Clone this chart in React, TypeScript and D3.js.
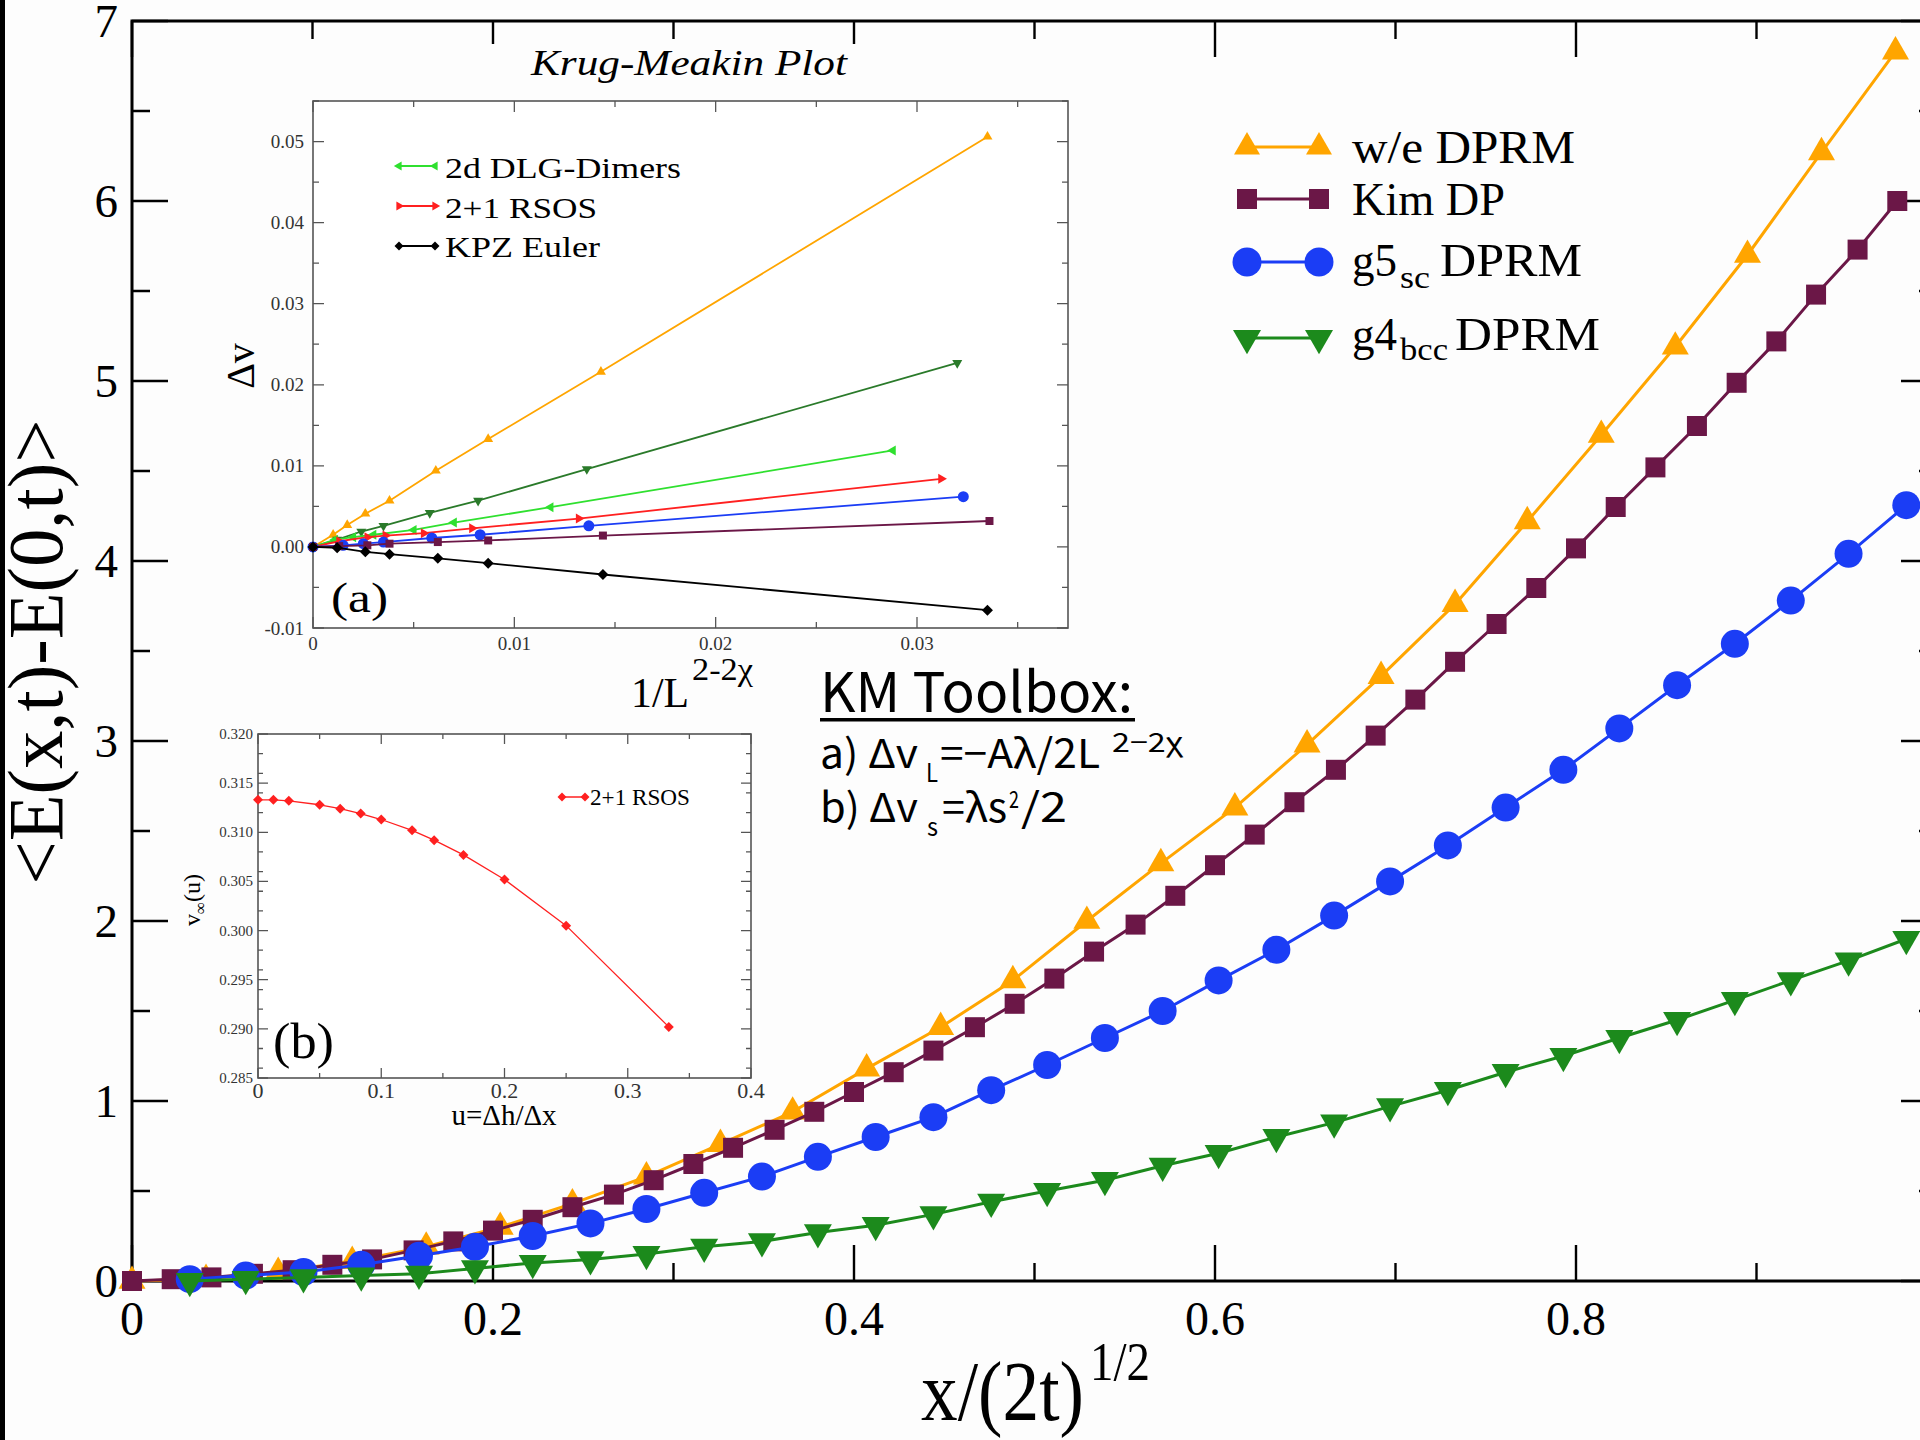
import React from "react";
import * as d3 from "d3";

// ---------------- Main chart data ----------------
const weX = [0, 0.041, 0.081, 0.122, 0.163, 0.204, 0.244, 0.285, 0.326, 0.366, 0.407, 0.448, 0.488, 0.529, 0.57, 0.611, 0.651, 0.692, 0.733, 0.773, 0.814, 0.855, 0.895, 0.936, 0.977];
const weY = [0, 0.01, 0.05, 0.11, 0.19, 0.3, 0.43, 0.58, 0.76, 0.94, 1.18, 1.41, 1.67, 2.0, 2.32, 2.63, 2.98, 3.36, 3.76, 4.22, 4.7, 5.19, 5.7, 6.27, 6.83];

const kimX = [0, 0.022, 0.044, 0.067, 0.089, 0.111, 0.133, 0.156, 0.178, 0.2, 0.222, 0.244, 0.267, 0.289, 0.311, 0.333, 0.356, 0.378, 0.4, 0.422, 0.444, 0.467, 0.489, 0.511, 0.533, 0.556, 0.578, 0.6, 0.622, 0.644, 0.667, 0.689, 0.711, 0.733, 0.756, 0.778, 0.8, 0.822, 0.844, 0.867, 0.889, 0.911, 0.933, 0.956, 0.978];
const kimY = [0, 0.01, 0.02, 0.04, 0.06, 0.09, 0.12, 0.17, 0.22, 0.28, 0.34, 0.41, 0.48, 0.56, 0.65, 0.74, 0.84, 0.94, 1.05, 1.16, 1.28, 1.41, 1.54, 1.68, 1.83, 1.98, 2.14, 2.31, 2.48, 2.66, 2.84, 3.03, 3.23, 3.44, 3.65, 3.85, 4.07, 4.3, 4.52, 4.75, 4.99, 5.22, 5.48, 5.73, 6.0];

const gX = [0.032, 0.063, 0.095, 0.127, 0.159, 0.19, 0.222, 0.254, 0.285, 0.317, 0.349, 0.38, 0.412, 0.444, 0.476, 0.507, 0.539, 0.571, 0.602, 0.634, 0.666, 0.697, 0.729, 0.761, 0.793, 0.824, 0.856, 0.888, 0.919, 0.951, 0.983];
const g5Y = [0.01, 0.03, 0.05, 0.09, 0.14, 0.19, 0.25, 0.32, 0.4, 0.49, 0.58, 0.69, 0.8, 0.91, 1.06, 1.2, 1.35, 1.5, 1.67, 1.84, 2.03, 2.22, 2.42, 2.63, 2.84, 3.07, 3.31, 3.54, 3.78, 4.04, 4.31];
const g4Y = [0.0, 0.01, 0.02, 0.03, 0.04, 0.07, 0.1, 0.12, 0.15, 0.19, 0.22, 0.27, 0.31, 0.37, 0.44, 0.5, 0.56, 0.64, 0.71, 0.8, 0.88, 0.97, 1.06, 1.16, 1.25, 1.35, 1.45, 1.56, 1.67, 1.78, 1.9];

const mainXTickLabels = ["0", "0.2", "0.4", "0.6", "0.8", "1"];
const mainYTickLabels = ["0", "1", "2", "3", "4", "5", "6", "7"];
const mainLegend = ["w/e DPRM", "Kim DP", "g5", "g4"];

// ---------------- Inset (a) data ----------------
const aWeX = [0, 0.001, 0.0017, 0.0026, 0.0038, 0.0061, 0.0087, 0.0143, 0.0335];
const aWeY = [0, 0.0015, 0.0027, 0.0041, 0.0057, 0.0094, 0.0133, 0.0216, 0.0506];
const aG4X = [0, 0.0012, 0.0024, 0.0035, 0.0058, 0.0082, 0.0136, 0.032];
const aG4Y = [0, 0.0009, 0.0019, 0.0026, 0.0042, 0.0057, 0.0096, 0.0227];
const aDlgX = [0, 0.0011, 0.002, 0.003, 0.005, 0.007, 0.0118, 0.0288];
const aDlgY = [0, 0.0009, 0.0012, 0.0015, 0.0021, 0.003, 0.0049, 0.0119];
const aRsosX = [0, 0.0013, 0.0027, 0.0036, 0.0055, 0.0079, 0.0132, 0.0312];
const aRsosY = [0, 0.0007, 0.0012, 0.0014, 0.0017, 0.0023, 0.0035, 0.0084];
const aG5X = [0, 0.0015, 0.0025, 0.0035, 0.0059, 0.0083, 0.0137, 0.0323];
const aG5Y = [0, 0.0002, 0.0004, 0.0006, 0.0011, 0.0015, 0.0026, 0.0062];
const aKimX = [0, 0.0013, 0.0027, 0.0038, 0.0062, 0.0087, 0.0144, 0.0336];
const aKimY = [0, 0.0001, 0.0002, 0.0004, 0.0006, 0.0008, 0.0014, 0.0032];
const aKpzX = [0, 0.0012, 0.0026, 0.0038, 0.0062, 0.0087, 0.0144, 0.0335];
const aKpzY = [0, -0.0001, -0.0006, -0.0009, -0.0014, -0.002, -0.0034, -0.0078];
const aXTickLabels = ["0", "0.01", "0.02", "0.03"];
const aYTickLabels = ["-0.01", "0.00", "0.01", "0.02", "0.03", "0.04", "0.05"];
const aLegend = ["2d DLG-Dimers", "2+1 RSOS", "KPZ Euler"];

// ---------------- Inset (b) data ----------------
const bU = [0, 0.0125, 0.025, 0.05, 0.0667, 0.0833, 0.1, 0.125, 0.1429, 0.1667, 0.2, 0.25, 0.3333];
const bV = [0.3133, 0.3133, 0.3132, 0.3128, 0.3124, 0.3119, 0.3113, 0.3102, 0.3092, 0.3077, 0.3052, 0.3005, 0.2902];
const bXTickLabels = ["0", "0.1", "0.2", "0.3", "0.4"];
const bYTickLabels = ["0.285", "0.290", "0.295", "0.300", "0.305", "0.310", "0.315", "0.320"];
const bLegend = ["2+1 RSOS"];

// ---------------- colours ----------------
const ORANGE = "#ffa500";
const MAROON = "#6b1747";
const BLUE = "#1b3df5";
const GREEN = "#1c8a1c";
const DKGREEN = "#2a7a2a";
const LTGREEN = "#2fe02f";
const RED = "#ff2020";
const SERIF = "'Liberation Serif', 'Times New Roman', serif";
const GOTHIC = "'Noto Sans CJK JP', 'Noto Sans', sans-serif";

const zip = (xs: number[], ys: number[]) => xs.map((v, i) => [v, ys[i]] as [number, number]);

const SHAPES: Record<string, [any, number]> = {
  triUp: [d3.symbolTriangle, 0],
  triDown: [d3.symbolTriangle, 180],
  triLeft: [d3.symbolTriangle, -90],
  triRight: [d3.symbolTriangle, 90],
  square: [d3.symbolSquare, 0],
  circle: [d3.symbolCircle, 0],
  diamond: [d3.symbolSquare, 45],
};

function symPath(shape: string, w: number) {
  let area: number;
  if (shape.startsWith("tri")) area = (Math.sqrt(3) / 4) * w * w;
  else if (shape === "circle") area = Math.PI * (w / 2) * (w / 2);
  else if (shape === "square") area = w * w;
  else area = (w / Math.SQRT2) * (w / Math.SQRT2);
  return d3.symbol().type(SHAPES[shape][0]).size(area)() as string;
}

function Marker({ shape, x, y, w, color }: any) {
  return <path d={symPath(shape, w)} transform={`translate(${x},${y}) rotate(${SHAPES[shape][1]})`} fill={color} />;
}

function Series({ pts, xs, ys, color, shape, w, lw }: any) {
  const line = d3.line<[number, number]>().x((d) => xs(d[0])).y((d) => ys(d[1]));
  return (
    <g>
      <path d={line(pts) as string} fill="none" stroke={color} strokeWidth={lw} strokeLinejoin="round" />
      {pts.map((d: [number, number], i: number) => (
        <Marker key={i} shape={shape} x={xs(d[0])} y={ys(d[1])} w={w} color={color} />
      ))}
    </g>
  );
}

function Frame({ xs, ys, xMaj, xMin, yMaj, yMin, majL, minL, color, sw, fill }: any) {
  const [x0, x1] = xs.range();
  const [y0, y1] = ys.range();
  const xmaj = xs.ticks(xMaj);
  const xmin = xs.ticks(xMin).filter((t: number) => !xmaj.some((m: number) => Math.abs(m - t) < 1e-9));
  const ymaj = ys.ticks(yMaj);
  const ymin = ys.ticks(yMin).filter((t: number) => !ymaj.some((m: number) => Math.abs(m - t) < 1e-9));
  const segs: string[] = [];
  const addX = (t: number, L: number) => {
    const X = xs(t);
    segs.push(`M${X},${y0}V${y0 - L}`);
    segs.push(`M${X},${y1}V${y1 + L}`);
  };
  const addY = (t: number, L: number) => {
    const Y = ys(t);
    segs.push(`M${x0},${Y}H${x0 + L}`);
    segs.push(`M${x1},${Y}H${x1 - L}`);
  };
  xmaj.forEach((t: number) => addX(t, majL));
  xmin.forEach((t: number) => addX(t, minL));
  ymaj.forEach((t: number) => addY(t, majL));
  ymin.forEach((t: number) => addY(t, minL));
  return (
    <g>
      {fill && <rect x={x0} y={y1} width={x1 - x0} height={y0 - y1} fill={fill} />}
      <path d={segs.join("")} stroke={color} strokeWidth={sw * 0.8} fill="none" />
      <rect x={x0} y={y1} width={x1 - x0} height={y0 - y1} fill="none" stroke={color} strokeWidth={sw} />
    </g>
  );
}

function T({ x, y, size, anchor = "start", family = SERIF, tl, children, fill = "#000", style, transform }: any) {
  const extra: any = {};
  if (tl) {
    extra.textLength = tl;
    extra.lengthAdjust = "spacingAndGlyphs";
  }
  return (
    <text x={x} y={y} fontSize={size} textAnchor={anchor} fontFamily={family} fill={fill} style={style} transform={transform} {...extra}>
      {children}
    </text>
  );
}

export default function App() {
  // main scales
  const xs = d3.scaleLinear().domain([0, 1]).range([132, 1937]);
  const ys = d3.scaleLinear().domain([0, 7]).range([1281, 21]);
  // inset a
  const axs = d3.scaleLinear().domain([0, 0.0375]).range([313, 1068]);
  const ays = d3.scaleLinear().domain([-0.01, 0.055]).range([628, 101]);
  // inset b
  const bxs = d3.scaleLinear().domain([0, 0.4]).range([258, 751]);
  const bys = d3.scaleLinear().domain([0.285, 0.32]).range([1078, 734]);

  const mainXMaj = xs.ticks(5);
  const mainYMaj = ys.ticks(7);
  const aXMaj = axs.ticks(4);
  const aYMaj = ays.ticks(7);
  const bXMaj = bxs.ticks(4);
  const bYMaj = bys.ticks(7);

  const legRows = [
    { shape: "triUp", color: ORANGE, w: 26, cy: 147 },
    { shape: "square", color: MAROON, w: 20, cy: 199 },
    { shape: "circle", color: BLUE, w: 29, cy: 262 },
    { shape: "triDown", color: GREEN, w: 28, cy: 338 },
  ];

  const aLegRows = [
    { shape: "triLeft", color: LTGREEN, cy: 166 },
    { shape: "triRight", color: RED, cy: 206 },
    { shape: "diamond", color: "#000", cy: 246 },
  ];

  return (
    <svg width={1920} height={1440} style={{ position: "absolute", left: 0, top: 0 }} xmlns="http://www.w3.org/2000/svg">
      <rect x={0} y={0} width={1920} height={1440} fill="#fdfdfd" />
      <rect x={0} y={0} width={5} height={1440} fill="#000" />

      {/* main frame */}
      <Frame xs={xs} ys={ys} xMaj={5} xMin={10} yMaj={7} yMin={14} majL={36} minL={18} color="#000" sw={3} />

      {/* pasted panel backing (covers top ticks) */}
      <rect x={300} y={44} width={790} height={600} fill="#fdfdfd" />

      {/* main tick labels */}
      {mainXMaj.map((t, i) => (
        <T key={i} x={xs(t)} y={1335} size={48} anchor="middle">{mainXTickLabels[i]}</T>
      ))}
      {mainYMaj.map((t, i) => (
        <T key={i} x={118} y={ys(t) + 16} size={47} anchor="end">{mainYTickLabels[i]}</T>
      ))}

      {/* axis titles */}
      <T x={921} y={1420} size={84} tl={163}>x/(2t)</T>
      <T x={1090} y={1380} size={54} tl={60}>1/2</T>
      <T x={0} y={0} size={78} anchor="middle" tl={465} transform="translate(62,652) rotate(-90)">{"<E(x,t)-E(0,t)>"}</T>

      {/* main series */}
      <Series pts={zip(weX, weY)} xs={xs} ys={ys} color={ORANGE} shape="triUp" w={27} lw={3} />
      <Series pts={zip(kimX, kimY)} xs={xs} ys={ys} color={MAROON} shape="square" w={20} lw={3} />
      <Series pts={zip(gX, g5Y)} xs={xs} ys={ys} color={BLUE} shape="circle" w={28} lw={3} />
      <Series pts={zip(gX, g4Y)} xs={xs} ys={ys} color={GREEN} shape="triDown" w={28} lw={3} />

      {/* main legend */}
      {legRows.map((r, i) => (
        <g key={i}>
          <line x1={1247} x2={1319} y1={r.cy} y2={r.cy} stroke={r.color} strokeWidth={3} />
          <Marker shape={r.shape} x={1247} y={r.cy} w={r.w} color={r.color} />
          <Marker shape={r.shape} x={1319} y={r.cy} w={r.w} color={r.color} />
        </g>
      ))}
      <T x={1352} y={163} size={46} tl={223}>{mainLegend[0]}</T>
      <T x={1352} y={215} size={46} tl={153}>{mainLegend[1]}</T>
      <T x={1352} y={276} size={46} tl={45}>{mainLegend[2]}</T>
      <T x={1400} y={288} size={32} tl={30}>sc</T>
      <T x={1440} y={276} size={46} tl={142}>DPRM</T>
      <T x={1352} y={350} size={46} tl={45}>{mainLegend[3]}</T>
      <T x={1400} y={360} size={32} tl={48}>bcc</T>
      <T x={1455} y={350} size={46} tl={145}>DPRM</T>

      {/* title */}
      <T x={531} y={75} size={36} tl={316} style={{ fontStyle: "italic" }}>Krug-Meakin Plot</T>

      {/* ---------- inset (a) ---------- */}
      <Frame xs={axs} ys={ays} xMaj={4} xMin={8} yMaj={7} yMin={13} majL={11} minL={6} color="#555" sw={1.6} fill="#ffffff" />
      {aXMaj.map((t, i) => (
        <T key={i} x={axs(t)} y={650} size={19} anchor="middle" fill="#333">{aXTickLabels[i]}</T>
      ))}
      {aYMaj.map((t, i) => (
        <T key={i} x={304} y={ays(t) + 6.5} size={19} anchor="end" fill="#333">{aYTickLabels[i]}</T>
      ))}
      <Series pts={zip(aWeX, aWeY)} xs={axs} ys={ays} color={ORANGE} shape="triUp" w={10} lw={1.8} />
      <Series pts={zip(aG4X, aG4Y)} xs={axs} ys={ays} color={DKGREEN} shape="triDown" w={10} lw={1.8} />
      <Series pts={zip(aDlgX, aDlgY)} xs={axs} ys={ays} color={LTGREEN} shape="triLeft" w={10} lw={1.8} />
      <Series pts={zip(aRsosX, aRsosY)} xs={axs} ys={ays} color={RED} shape="triRight" w={10} lw={1.8} />
      <Series pts={zip(aG5X, aG5Y)} xs={axs} ys={ays} color={BLUE} shape="circle" w={11} lw={1.8} />
      <Series pts={zip(aKimX, aKimY)} xs={axs} ys={ays} color={MAROON} shape="square" w={8} lw={1.8} />
      <Series pts={zip(aKpzX, aKpzY)} xs={axs} ys={ays} color="#000" shape="diamond" w={11} lw={1.8} />
      {aLegRows.map((r, i) => (
        <g key={i}>
          <line x1={399} x2={435} y1={r.cy} y2={r.cy} stroke={r.color} strokeWidth={2} />
          <Marker shape={r.shape} x={399} y={r.cy} w={9} color={r.color} />
          <Marker shape={r.shape} x={435} y={r.cy} w={9} color={r.color} />
        </g>
      ))}
      <T x={445} y={178} size={30} tl={236}>{aLegend[0]}</T>
      <T x={445} y={218} size={30} tl={152}>{aLegend[1]}</T>
      <T x={445} y={257} size={30} tl={155}>{aLegend[2]}</T>
      <T x={331} y={612} size={42} tl={57}>(a)</T>
      <T x={0} y={0} size={40} anchor="middle" transform="translate(254,366) rotate(-90)">Δv</T>
      <T x={631} y={707} size={42} tl={58}>1/L</T>
      <T x={692} y={680} size={31} tl={61}>2-2χ</T>

      {/* ---------- inset (b) ---------- */}
      <Frame xs={bxs} ys={bys} xMaj={4} xMin={8} yMaj={7} yMin={14} majL={10} minL={5} color="#555" sw={1.6} fill="#ffffff" />
      {bXMaj.map((t, i) => (
        <T key={i} x={bxs(t)} y={1098} size={22} anchor="middle" fill="#333">{bXTickLabels[i]}</T>
      ))}
      {bYMaj.map((t, i) => (
        <T key={i} x={253} y={bys(t) + 5} size={15} anchor="end" fill="#333">{bYTickLabels[i]}</T>
      ))}
      <Series pts={zip(bU, bV)} xs={bxs} ys={bys} color={RED} shape="diamond" w={10} lw={1.3} />
      <line x1={562} x2={585} y1={797} y2={797} stroke={RED} strokeWidth={1.5} />
      <Marker shape="diamond" x={562} y={797} w={9} color={RED} />
      <Marker shape="diamond" x={585} y={797} w={9} color={RED} />
      <T x={590} y={805} size={23} tl={100}>{bLegend[0]}</T>
      <T x={273} y={1058} size={50} tl={61}>(b)</T>
      <T x={504} y={1125} size={29} anchor="middle">u=Δh/Δx</T>
      <text transform="translate(200,900) rotate(-90)" fontFamily={SERIF} fontSize={24} textAnchor="middle">
        v<tspan fontSize={17} dy={6}>∞</tspan><tspan dy={-6}>(u)</tspan>
      </text>

      {/* ---------- KM toolbox ---------- */}
      <T x={820} y={712} size={55} family={GOTHIC} tl={313}>KM Toolbox:</T>
      <rect x={820} y={718} width={315} height={3.5} fill="#000" />
      <T x={820} y={768} size={40} family={GOTHIC} tl={98}>a) Δv</T>
      <T x={926} y={782} size={26} family={GOTHIC} tl={12}>L</T>
      <T x={940} y={768} size={40} family={GOTHIC} tl={160}>=−Aλ/2L</T>
      <T x={1112} y={752} size={27} family={GOTHIC} tl={71}>2−2χ</T>
      <T x={820} y={822} size={40} family={GOTHIC} tl={98}>b) Δv</T>
      <T x={927} y={836} size={26} family={GOTHIC} tl={11}>s</T>
      <T x={942} y={822} size={40} family={GOTHIC} tl={65}>=λs</T>
      <T x={1009} y={808} size={24} family={GOTHIC} tl={10}>2</T>
      <T x={1021} y={822} size={40} family={GOTHIC} tl={46}>/2</T>
    </svg>
  );
}
